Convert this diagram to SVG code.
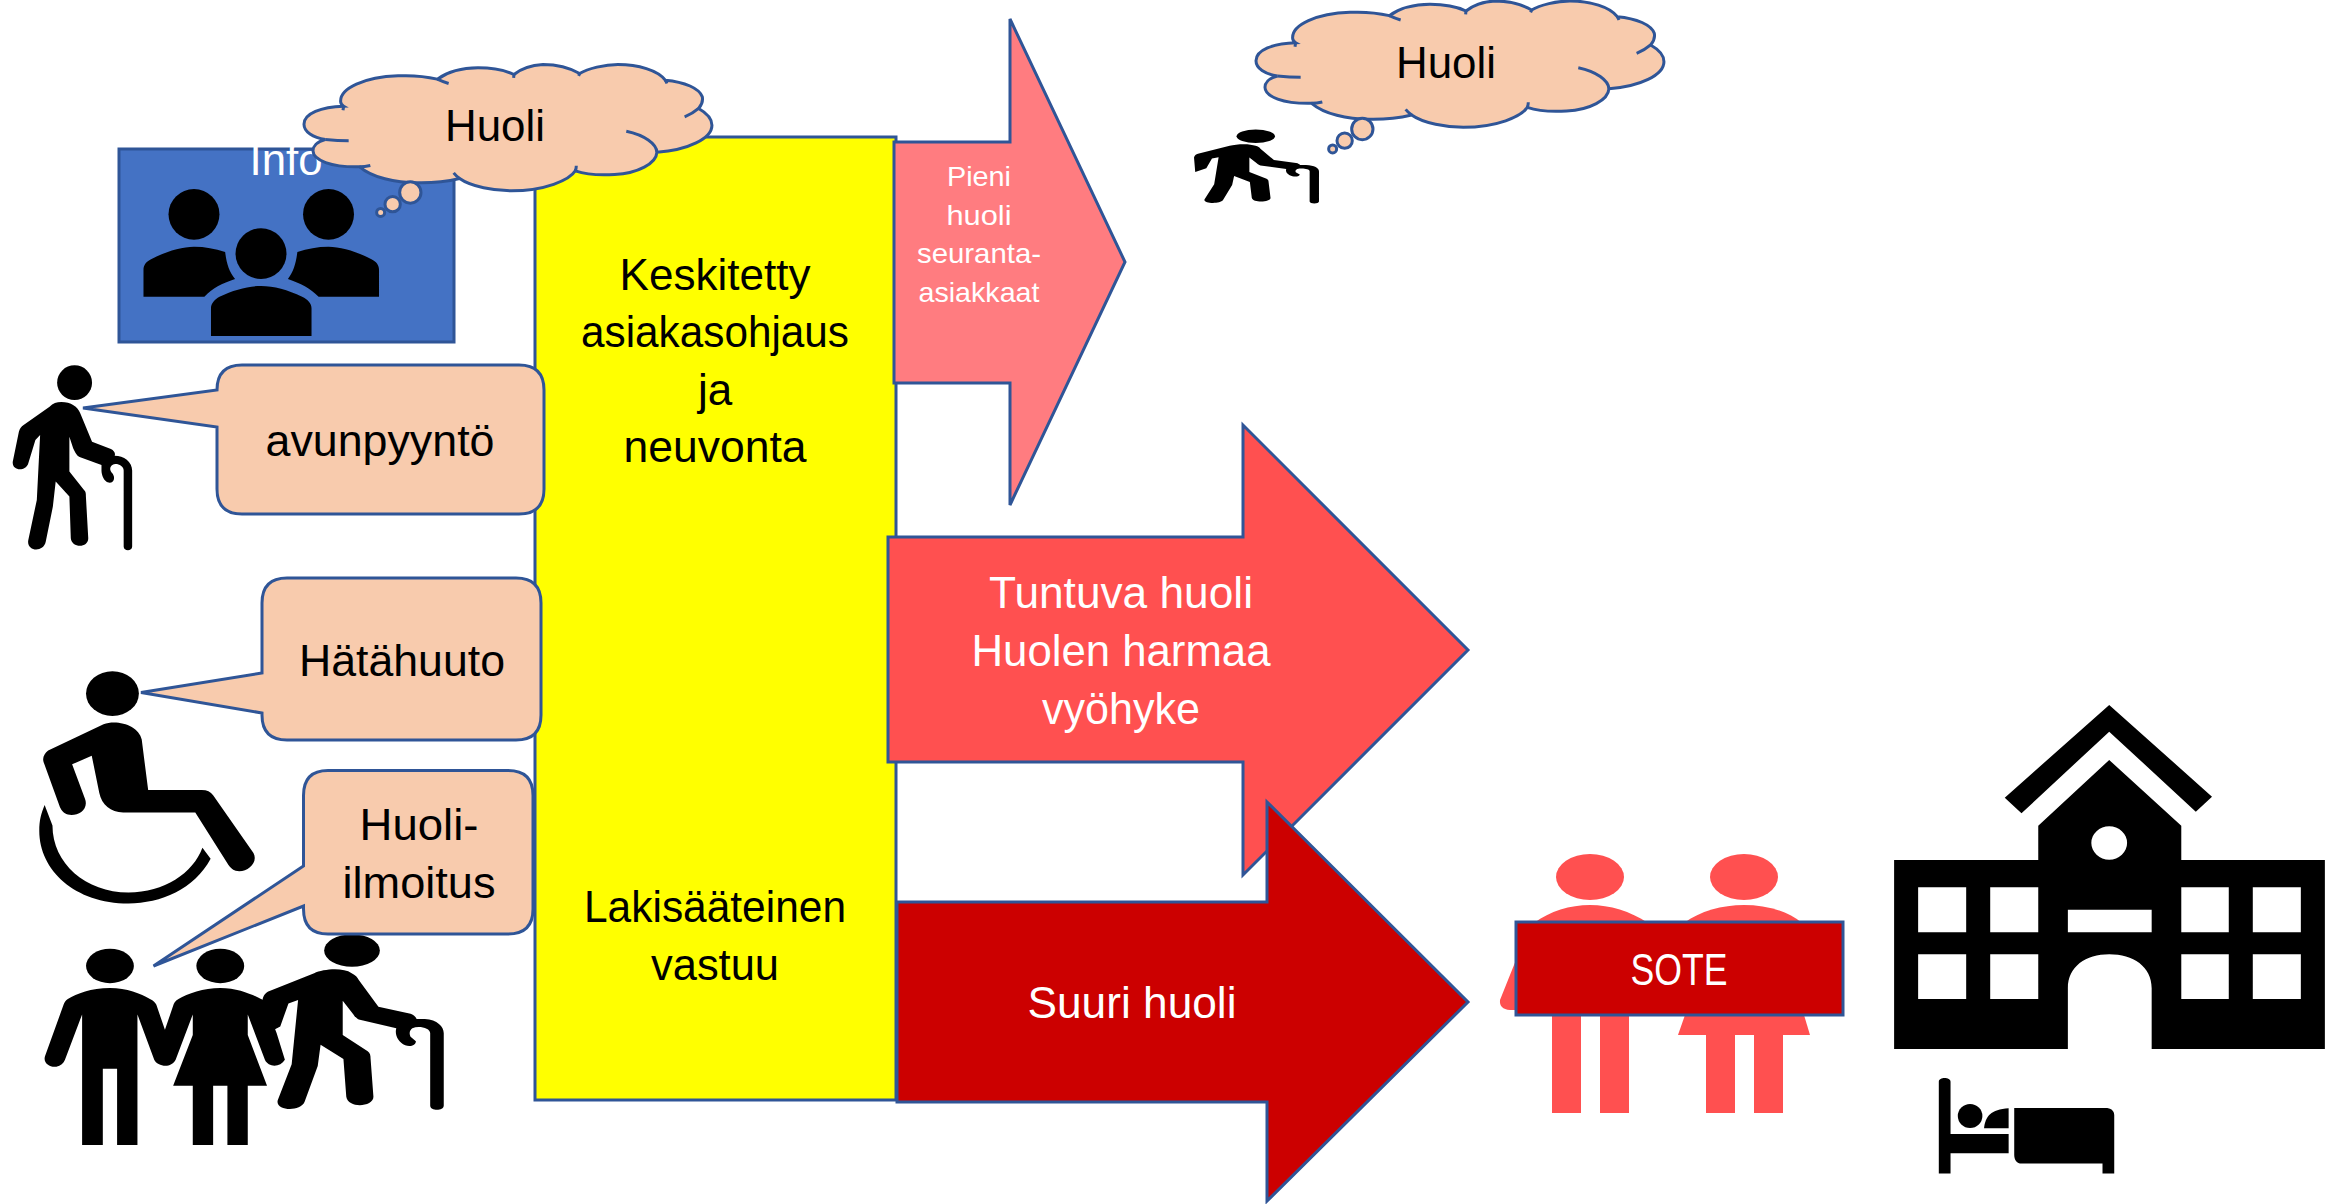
<svg xmlns="http://www.w3.org/2000/svg" xmlns:xlink="http://www.w3.org/1999/xlink" width="2336" height="1204" viewBox="0 0 2336 1204">
<style>
text{font-family:"Liberation Sans",Arial,sans-serif;font-size:44px;text-anchor:middle;fill:#000}
.w{fill:#fff}
.s{font-size:28px}
.o{stroke:#2F5597;stroke-width:3;stroke-linejoin:miter}
.b{fill:#F8CBAD}
.k{fill:#000}
.r{fill:#FF5050}
.cl{fill:#F8CBAD;stroke:#2F5597;stroke-width:9}
.cn{fill:none;stroke:#2F5597;stroke-width:9}
</style>
<defs>
<g id="cloud">
<path class="cl" d="M347,128 C280,130 228,150 228,182 C228,205 255,222 292,228 C265,235 255,250 255,262 C255,290 310,312 395,310 C430,340 500,360 580,358 C630,358 665,352 695,345 C730,370 800,382 850,382 C950,382 1025,350 1042,322 C1080,335 1130,335 1160,333 C1230,330 1285,300 1287,266 C1380,260 1452,225 1452,185 C1452,165 1435,148 1412,135 C1425,120 1425,110 1423,100 C1415,75 1370,55 1312,50 C1290,20 1230,3 1170,3 C1130,3 1080,15 1055,30 C1020,10 990,3 945,3 C910,5 880,15 858,33 C830,20 790,13 750,13 C700,13 655,28 628,47 C590,38 550,35 510,37 C410,40 335,75 338,115 C338,120 342,125 347,128 Z"/>
<path class="cn" d="M292,228 Q330,232 362,232 M395,310 Q410,310 427,306 M695,345 Q685,338 677,328 M1042,322 Q1045,315 1045,307 M1287,266 C1285,240 1250,215 1195,203 M1412,135 Q1395,150 1370,160 M1312,50 Q1315,55 1317,60 M1055,30 L1052,37 M858,33 L857,43 M628,47 Q645,55 662,60 M347,128 L345,140"/>
<ellipse class="cl" cx="547" cy="387" rx="32" ry="32"/>
<ellipse class="cl" cx="494" cy="422" rx="23" ry="23"/>
<ellipse class="cl" cx="458" cy="447" rx="12" ry="12"/>
</g>
<g id="elder">
<ellipse cx="986" cy="904" rx="78" ry="47"/>
<path d="M735,1050 C737,1035 745,1025 755,1022 L880,970 C905,958 960,952 985,970 C995,975 1002,982 1005,990 L1060,1068 L1150,1088 C1158,1090 1165,1098 1167,1103 L1190,1103 C1225,1105 1243,1125 1243,1145 L1243,1355 C1243,1372 1205,1372 1205,1355 L1205,1145 C1205,1130 1175,1122 1155,1130 C1148,1135 1145,1145 1150,1155 L1165,1168 C1165,1180 1150,1185 1135,1180 C1115,1170 1105,1150 1110,1130 L1005,1105 C998,1100 995,1098 990,1090 L960,1050 L960,1150 L1030,1197 C1037,1203 1038,1210 1038,1218 L1046,1330 C1046,1360 975,1365 970,1330 L962,1220 L898,1178 L890,1240 L853,1345 C840,1375 770,1370 778,1340 L817,1235 L835,1048 L808,1058 L785,1125 L740,1150 Z"/>
</g>
</defs>

<g id="info-box">
<rect class="o" x="119" y="149" width="335" height="193" fill="#4472C4"/>
<text class="w" x="286" y="175" textLength="73" lengthAdjust="spacingAndGlyphs">Info</text>
<g class="k" transform="translate(0 50) scale(.472 .3333)">
<ellipse cx="411" cy="493" rx="54" ry="76"/>
<ellipse cx="696" cy="493" rx="54" ry="76"/>
<ellipse cx="553" cy="611" rx="54" ry="76"/>
<path d="M304,740 L304,660 C304,645 310,635 320,628 C350,605 385,590 411,590 C435,590 455,596 477,606 C480,640 485,665 498,687 C470,700 450,715 433,740 Z"/>
<path d="M803,740 L803,660 C803,645 797,635 787,628 C757,605 722,590 696,590 C672,590 652,596 630,606 C627,640 622,665 610,687 C637,700 657,715 675,740 Z"/>
<path d="M447,858 L447,775 C447,760 455,748 465,740 C495,720 525,708 553,708 C580,708 610,720 640,740 C652,748 660,760 660,775 L660,858 Z"/>
</g>
</g>

<g id="person-cane" class="k" transform="translate(0 50) scale(.472 .3333)">
<ellipse cx="158" cy="998" rx="37" ry="52"/>
<path d="M130,1056 C150,1056 165,1070 170,1090 L195,1175 L235,1197 C242,1202 245,1210 243,1217 C262,1217 280,1235 280,1262 L280,1490 C280,1505 262,1505 262,1490 L262,1262 C262,1245 245,1238 238,1245 C232,1250 232,1262 238,1270 C246,1285 240,1300 230,1298 C220,1295 215,1275 215,1262 L215,1245 L170,1222 C163,1218 160,1210 155,1195 L147,1160 L147,1265 L178,1320 C182,1325 182,1330 182,1340 L187,1465 C187,1495 152,1495 150,1465 L147,1340 L118,1295 L112,1370 L97,1475 C92,1510 55,1505 60,1470 L78,1350 L85,1155 L75,1170 L60,1240 C55,1265 25,1265 27,1235 L40,1145 C42,1135 45,1130 50,1125 L105,1070 C112,1060 120,1056 130,1056 Z"/>
</g>

<g id="person-wheelchair" class="k" transform="translate(0 640) scale(.357 .3435)">
<ellipse cx="315" cy="156" rx="74" ry="65"/>
<path d="M135,322 L290,245 C330,230 390,250 397,290 L415,437 L565,437 C580,437 590,442 597,452 L710,620 C725,650 690,680 660,672 C650,668 645,662 640,655 L547,502 L345,502 C310,502 285,480 278,445 L257,337 L202,362 L238,462 C250,495 215,515 190,508 C178,505 172,495 168,487 L122,355 C118,342 125,330 135,322 Z"/>
<path d="M125,480 L147,540 C147,650 240,735 360,735 C460,735 540,680 567,605 L590,637 C545,725 450,767 360,767 C210,767 110,670 110,555 C110,525 115,505 125,480 Z"/>
</g>

<g id="people-group" class="k" transform="translate(0 640) scale(.357 .3435)">
<ellipse cx="308" cy="949" rx="67" ry="50"/>
<ellipse cx="617" cy="949" rx="67" ry="50"/>
<path d="M308,1013 C255,1013 215,1030 190,1045 C183,1050 180,1056 178,1062 L126,1212 C120,1232 140,1245 158,1242 C170,1240 178,1232 182,1222 L230,1090 L230,1470 L288,1470 L288,1248 L328,1248 L328,1470 L385,1470 L385,1090 L432,1222 C440,1240 478,1250 492,1222 L540,1090 L540,1150 L485,1298 L540,1298 L540,1470 L597,1470 L597,1298 L637,1298 L637,1470 L694,1470 L694,1298 L748,1298 L694,1150 L694,1090 L742,1222 C752,1245 785,1245 798,1222 L775,1145 L740,1050 C730,1045 680,1013 617,1013 C570,1013 525,1030 500,1045 C490,1050 487,1058 485,1065 L462,1135 L438,1062 C435,1055 430,1050 420,1045 C395,1030 355,1013 308,1013 Z"/>
<use xlink:href="#elder" href="#elder"/>
</g>

<g id="center-block">
<rect class="o" x="535" y="137" width="361" height="963" fill="#FFFF00"/>
<text x="715" y="290" textLength="191" lengthAdjust="spacingAndGlyphs">Keskitetty</text>
<text x="715" y="347" textLength="268" lengthAdjust="spacingAndGlyphs">asiakasohjaus</text>
<text x="715" y="405">ja</text>
<text x="715" y="462" textLength="183" lengthAdjust="spacingAndGlyphs">neuvonta</text>
<text x="715" y="922" textLength="262" lengthAdjust="spacingAndGlyphs">Lakisääteinen</text>
<text x="715" y="980" textLength="128" lengthAdjust="spacingAndGlyphs">vastuu</text>
</g>

<g id="bubble-avunpyynto">
<path class="o b" d="M242,365 H519 Q544,365 544,390 V489 Q544,514 519,514 H242 Q217,514 217,489 V427 L83,408 L217,390 Q217,365 242,365 Z"/>
<text x="380" y="456" textLength="229" lengthAdjust="spacingAndGlyphs">avunpyyntö</text>
</g>
<g id="bubble-hatahuuto">
<path class="o b" d="M287,578 H516 Q541,578 541,603 V715 Q541,740 516,740 H287 Q262,740 262,715 V713 L141,692.500 L262,673 V603 Q262,578 287,578 Z"/>
<text x="402" y="676" textLength="206" lengthAdjust="spacingAndGlyphs">Hätähuuto</text>
</g>
<g id="bubble-huoli-ilmoitus">
<path class="o b" d="M328,770.500 H508 Q533,770.500 533,795.500 V909 Q533,934 508,934 H328 Q303.500,934 303.500,909 V906 L153.500,966 L303.500,866 V795.500 Q303.500,770.500 328,770.500 Z"/>
<text x="419" y="840" textLength="119" lengthAdjust="spacingAndGlyphs">Huoli-</text>
<text x="419" y="898" textLength="153" lengthAdjust="spacingAndGlyphs">ilmoitus</text>
</g>

<g id="cloud-left" transform="translate(228 63.500) scale(.3333)">
<use xlink:href="#cloud" href="#cloud"/>
</g>
<text x="495" y="141" textLength="100" lengthAdjust="spacingAndGlyphs">Huoli</text>

<g id="elder-top" class="k" transform="translate(1013.200 5.600) scale(.246 .1446)">
<use xlink:href="#elder" href="#elder"/>
</g>
<g id="cloud-right" transform="translate(1180 0) scale(.3333)">
<use xlink:href="#cloud" href="#cloud"/>
</g>
<text x="1446" y="78" textLength="100" lengthAdjust="spacingAndGlyphs">Huoli</text>

<g id="connectors">
<g id="arrow-pieni">
<path class="o" fill="#FF7C80" d="M894,142 H1010 V19 L1125,262 L1010,505 V383 H894 Z"/>
<text class="w s" x="979" y="186" textLength="64" lengthAdjust="spacingAndGlyphs">Pieni</text>
<text class="w s" x="979" y="225" textLength="65" lengthAdjust="spacingAndGlyphs">huoli</text>
<text class="w s" x="979" y="263" textLength="124" lengthAdjust="spacingAndGlyphs">seuranta-</text>
<text class="w s" x="979" y="302" textLength="121" lengthAdjust="spacingAndGlyphs">asiakkaat</text>
</g>
<g id="arrow-tuntuva">
<path class="o r" d="M888,537 H1243 V425 L1468,650 L1243,875 V762 H888 Z"/>
<text class="w" x="1121" y="608" textLength="264" lengthAdjust="spacingAndGlyphs">Tuntuva huoli</text>
<text class="w" x="1121" y="666" textLength="299" lengthAdjust="spacingAndGlyphs">Huolen harmaa</text>
<text class="w" x="1121" y="724" textLength="158" lengthAdjust="spacingAndGlyphs">vyöhyke</text>
</g>
<g id="arrow-suuri">
<path class="o" fill="#CC0000" d="M897,902 H1267 V802 L1468,1002 L1267,1201 V1102 H897 Z"/>
<text class="w" x="1132" y="1018" textLength="209" lengthAdjust="spacingAndGlyphs">Suuri huoli</text>
</g>
</g>

<g id="sote">
<g class="r">
<ellipse cx="1590" cy="877" rx="34" ry="23"/>
<ellipse cx="1744" cy="877" rx="34" ry="23"/>
<path d="M1534,923 C1550,911 1570,905 1590,905 C1610,905 1630,911 1648,923 Z"/>
<path d="M1684,923 C1700,911 1722,905 1744,905 C1766,905 1788,911 1802,923 Z"/>
<path d="M1516,960 L1500,1000 Q1499,1009 1510,1010 H1518 Z"/>
<rect x="1552" y="1015" width="29" height="98"/>
<rect x="1600" y="1015" width="29" height="98"/>
<path d="M1685,1015 H1804 L1810,1035 H1678 Z"/>
<rect x="1706" y="1030" width="29" height="83"/>
<rect x="1754" y="1030" width="29" height="83"/>
</g>
<rect class="o" x="1516" y="922" width="327" height="93" fill="#CC0000"/>
<text class="w" x="1679" y="985" textLength="97" lengthAdjust="spacingAndGlyphs">SOTE</text>
</g>

<g id="hospital" class="k" transform="translate(1460 680) scale(.5587 .3333)">
<path d="M1162,75 L1346,350 L1317,395 L1162,155 L1005,400 L975,353 Z"/>
<path fill-rule="evenodd" d="M1162,240 L1291,437 V540 H1548 V1107 H1238 V925 C1238,860 1205,823 1162,823 C1120,823 1088,860 1088,925 V1107 H777 V540 H1035 V437 Z M820,622 V757 H906 V622 Z M949,622 V757 H1035 V622 Z M1291,622 V757 H1376 V622 Z M1419,622 V757 H1505 V622 Z M820,823 V957 H906 V823 Z M949,823 V957 H1035 V823 Z M1291,823 V957 H1376 V823 Z M1419,823 V957 H1505 V823 Z M1088,689 V757 H1238 V689 Z M1130,489 A32,50 0 1 0 1194,489 A32,50 0 1 0 1130,489 Z"/>
</g>

<g id="bed" class="k" transform="translate(1460 680) scale(.5587 .3333)">
<path d="M857,1205 C857,1190 878,1190 878,1205 V1362 H982 V1420 H878 V1481 H857 Z"/>
<ellipse cx="913" cy="1308" rx="22" ry="36"/>
<path d="M982,1285 V1345 H938 C940,1310 950,1288 982,1285 Z"/>
<path d="M992,1284 H1155 C1165,1284 1171,1292 1171,1305 V1481 H1150 V1451 H1005 C997,1451 992,1440 992,1425 Z"/>
</g>
</svg>
